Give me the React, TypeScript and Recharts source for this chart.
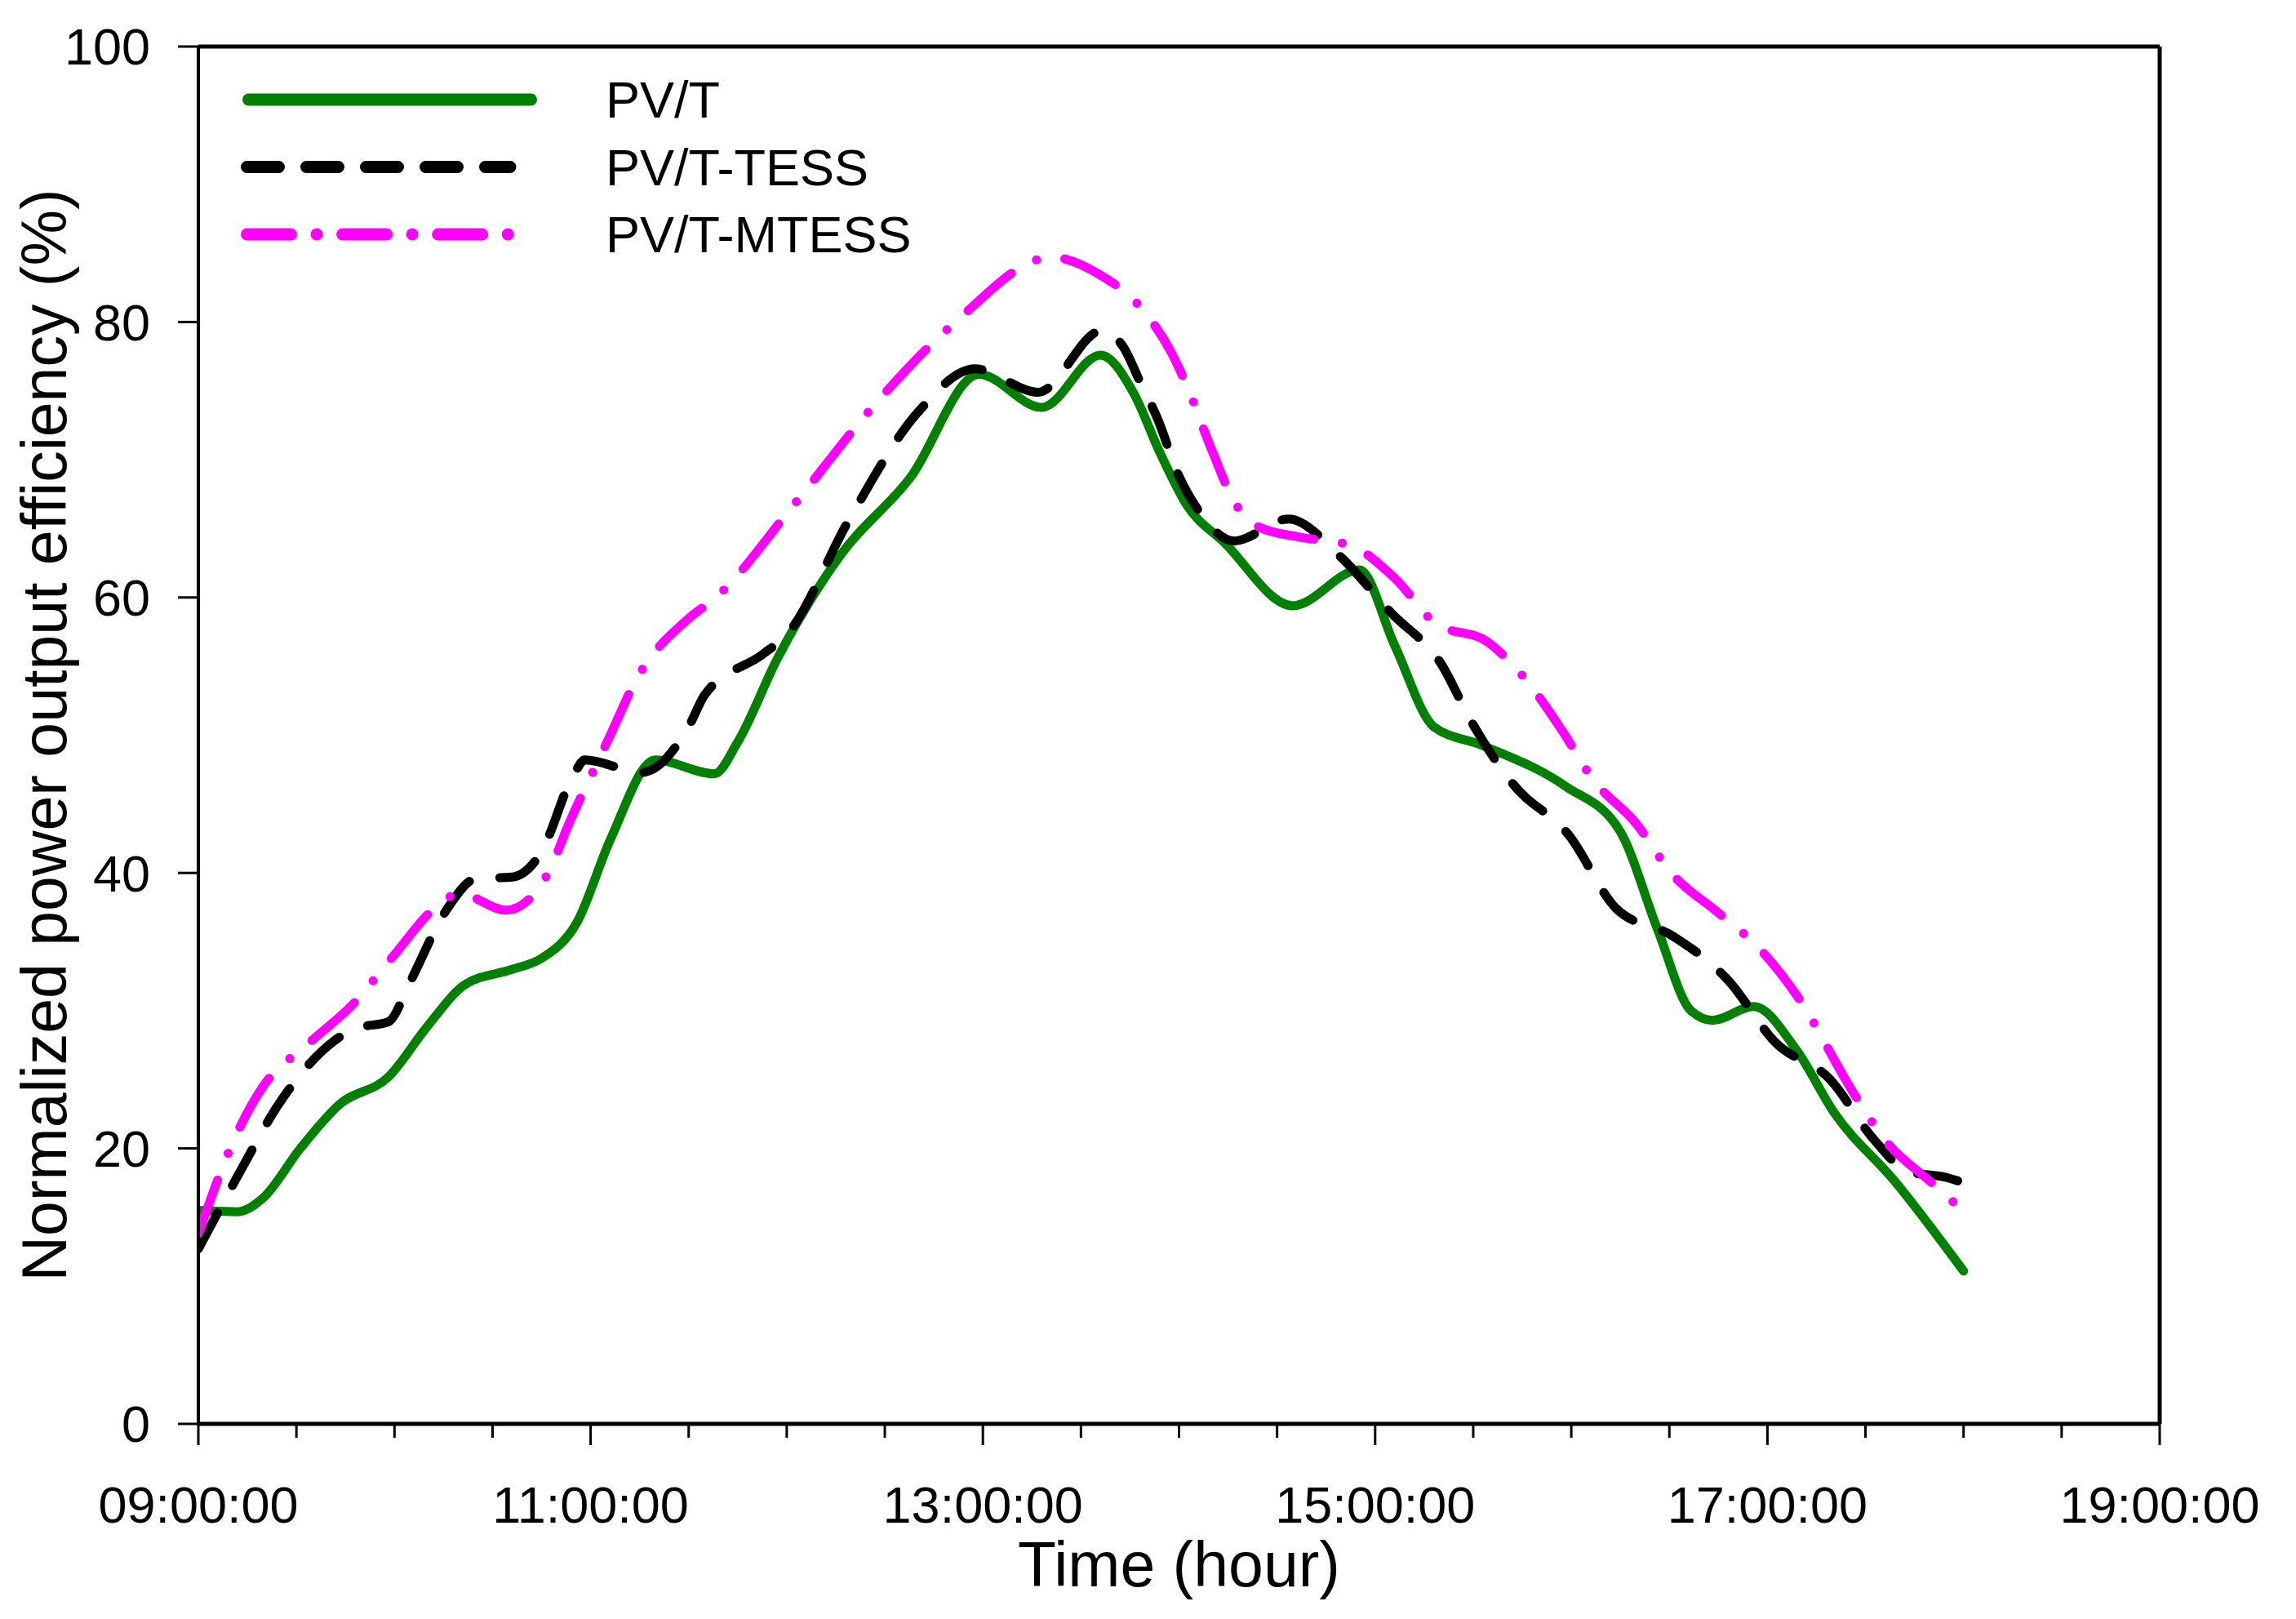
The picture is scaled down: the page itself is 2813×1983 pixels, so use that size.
import React from 'react';
import { LineChart, Line, XAxis, YAxis, ReferenceLine, Legend, Label } from 'recharts';

// hours (decimal) and normalized efficiency (%)
const pvtTime = [9.0, 9.2, 9.33, 9.52, 9.72, 9.97, 10.17, 10.36, 10.6, 10.75, 10.93, 11.1, 11.33, 11.63, 11.75, 11.95, 12.27, 12.63, 12.98, 13.3, 13.6, 13.77, 13.9, 14.04, 14.23, 14.58, 14.92, 15.1, 15.3, 15.54, 15.97, 16.25, 16.44, 16.61, 16.72, 16.93, 17.15, 17.34, 17.65, 18.0];
const pvtValue = [15.5, 15.4, 16.4, 20.0, 23.2, 25.2, 28.9, 31.9, 33.0, 33.8, 36.4, 42.4, 48.2, 47.2, 49.5, 55.5, 63.0, 68.7, 76.2, 73.8, 77.6, 74.8, 70.6, 66.7, 64.0, 59.4, 62.0, 56.5, 50.6, 49.3, 46.3, 43.0, 35.9, 30.0, 29.3, 30.3, 27.1, 22.6, 17.6, 11.1];

const tessTime = [9.0, 9.22, 9.4, 9.8, 9.97, 10.08, 10.26, 10.42, 10.6, 10.74, 10.92, 10.97, 11.26, 11.51, 11.58, 11.88, 12.0, 12.32, 12.66, 12.96, 13.28, 13.61, 13.72, 13.8, 13.89, 14.0, 14.1, 14.28, 14.56, 14.82, 15.08, 15.34, 15.49, 15.7, 15.99, 16.23, 16.52, 16.8, 17.04, 17.32, 17.54, 17.72, 17.91, 18.0];
const tessValue = [12.7, 18.5, 23.0, 28.7, 29.2, 32.1, 37.2, 39.6, 39.7, 41.3, 47.3, 48.2, 47.3, 50.9, 52.9, 55.9, 57.3, 65.7, 73.3, 76.6, 74.9, 79.4, 78.1, 75.7, 73.0, 68.8, 66.3, 64.1, 65.7, 63.0, 58.9, 55.1, 51.0, 46.5, 42.7, 37.4, 35.4, 32.2, 27.7, 25.0, 20.7, 18.3, 17.9, 17.5];

const mtessTime = [9.0, 9.2, 9.33, 9.56, 9.79, 9.99, 10.21, 10.33, 10.57, 10.78, 10.89, 11.11, 11.22, 11.51, 11.63, 12.04, 12.43, 12.86, 13.35, 13.6, 13.82, 13.96, 14.03, 14.17, 14.28, 14.41, 14.61, 14.87, 15.1, 15.31, 15.57, 15.77, 15.95, 16.11, 16.33, 16.51, 16.75, 16.96, 17.15, 17.44, 17.6, 17.83, 17.96, 18.0];
const mtessValue = [13.8, 21.2, 24.5, 27.6, 30.5, 33.9, 37.5, 38.5, 37.3, 39.9, 43.6, 50.3, 53.7, 58.6, 59.9, 66.8, 73.7, 80.0, 84.7, 83.4, 80.8, 77.8, 75.7, 70.6, 67.0, 65.1, 64.4, 63.8, 61.4, 58.1, 56.8, 54.0, 50.4, 46.8, 43.6, 40.0, 37.1, 34.5, 31.1, 24.0, 20.6, 17.6, 16.0, 15.7];

const yTicks = [0, 20, 40, 60, 80, 100];
const xTicks = [9, 9.5, 10, 10.5, 11, 11.5, 12, 12.5, 13, 13.5, 14, 14.5, 15, 15.5, 16, 16.5, 17, 17.5, 18, 18.5, 19];
const xLabelHours = [9, 11, 13, 15, 17, 19];

const FONT = '"Liberation Sans", Arial, sans-serif';

const zip = (t: number[], v: number[]) => t.map((x, i) => ({ t: x, v: v[i] }));

const series = [
  { name: 'PV/T', data: zip(pvtTime, pvtValue), color: '#008000', dash: undefined, legendDash: undefined },
  { name: 'PV/T-TESS', data: zip(tessTime, tessValue), color: '#000000', dash: '50 38', legendDash: '39 34' },
  { name: 'PV/T-MTESS', data: zip(mtessTime, mtessValue), color: '#ff00ff', dash: '70 35 0.1 35', legendDash: '54 31.5 0.1 31.5' },
];

const fmtHour = (h: number) => `${String(h).padStart(2, '0')}:00:00`;

function TimeTick(props: any) {
  const { x, y, payload } = props;
  const major = xLabelHours.includes(payload.value);
  return (
    <g>
      <line x1={x} x2={x} y1={y} y2={y + (major ? 26 : 17)} stroke="#000" strokeWidth={3} />
      {major && (
        <text x={x} y={y + 121} textAnchor="middle" fontSize={63} fontFamily={FONT} fill="#000">
          {fmtHour(payload.value)}
        </text>
      )}
    </g>
  );
}

const renderLegend = () => (
  <svg width={900} height={260} style={{ overflow: 'visible' }}>
    {series.map((s, i) => {
      const y = 42 + i * 82.5;
      const solid = !s.legendDash;
      return (
        <g key={s.name}>
          <line
            x1={solid ? 24.5 : 22.5}
            x2={solid ? 370.5 : 345}
            y1={y}
            y2={y}
            stroke={s.color}
            strokeWidth={15}
            strokeLinecap="round"
            strokeDasharray={s.legendDash}
          />
          <text x={462} y={y} dominantBaseline="central" fontSize={63} fontFamily={FONT} fill="#000">
            {s.name}
          </text>
        </g>
      );
    })}
  </svg>
);

export default function App() {
  return (
    <div style={{ position: 'absolute', left: 0, top: 0, width: 2813, height: 1983, background: '#fff' }}>
      <LineChart
        width={2813}
        height={1983}
        margin={{ top: 57, right: 167, bottom: 0, left: 0 }}
        style={{ fontFamily: FONT }}
      >
        <XAxis
          type="number"
          dataKey="t"
          domain={[9, 19]}
          ticks={xTicks}
          interval={0}
          height={239}
          tickSize={0}
          tickMargin={0}
          tickLine={false}
          tick={<TimeTick />}
          axisLine={{ stroke: '#000', strokeWidth: 5 }}
          allowDataOverflow
        >
          <Label
            content={(p: any) => {
              const vb = p.viewBox || { x: 243, y: 1744, width: 2403, height: 239 };
              return (
                <text x={vb.x + vb.width / 2} y={vb.y + 199} textAnchor="middle" fontSize={77} fontFamily={FONT} fill="#000">
                  Time (hour)
                </text>
              );
            }}
          />
        </XAxis>
        <YAxis
          type="number"
          domain={[0, 100]}
          ticks={yTicks}
          interval={0}
          width={243}
          tickSize={25}
          tickMargin={34}
          tickLine={{ stroke: '#000', strokeWidth: 3 }}
          axisLine={{ stroke: '#000', strokeWidth: 4 }}
          tick={{ fontSize: 63, fill: '#000', fontFamily: FONT }}
        >
          <Label
            content={(p: any) => {
              const vb = p.viewBox || { x: 0, y: 57, width: 243, height: 1687 };
              const cy = vb.y + vb.height / 2;
              return (
                <text
                  x={81}
                  y={cy}
                  textAnchor="middle"
                  fontSize={77}
                  fontFamily={FONT}
                  fill="#000"
                  transform={`rotate(-90, 81, ${cy})`}
                >
                  Normalized power output efficiency (%)
                </text>
              );
            }}
          />
        </YAxis>
        <ReferenceLine y={100} stroke="#000" strokeWidth={5} />
        <ReferenceLine x={19} stroke="#000" strokeWidth={5} />
        {series.map((s) => (
          <Line
            key={s.name}
            data={s.data}
            dataKey="v"
            name={s.name}
            type="monotone"
            stroke={s.color}
            strokeWidth={11}
            strokeLinecap="round"
            strokeLinejoin="round"
            strokeDasharray={s.dash}
            dot={false}
            activeDot={false}
            isAnimationActive={false}
          />
        ))}
        <Legend
          layout="vertical"
          align="center"
          verticalAlign="middle"
          wrapperStyle={{ left: 280, top: 80, width: 900, height: 260 }}
          content={renderLegend}
        />
      </LineChart>
    </div>
  );
}
